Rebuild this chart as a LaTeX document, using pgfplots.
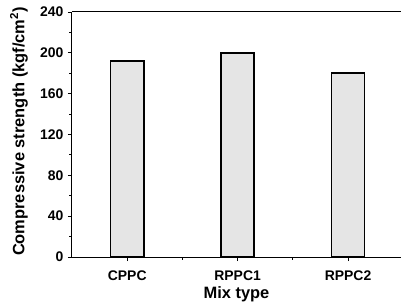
\documentclass[border=0pt]{standalone}
\usepackage{pgfplots}
\pgfplotsset{compat=1.18}
\usepackage{fontspec}
\setmainfont{Liberation Sans}
\begin{document}
\begin{tikzpicture}
\begin{axis}[
  scale only axis,
  width=329bp, height=245bp,
  xmin=0.5, xmax=3.48,
  ymin=0, ymax=240,
  axis x line=box, axis y line=left,
  axis line style={-, line width=1bp},
  xtick pos=left,
  xtick={1,2,3},
  xticklabels={CPPC,RPPC1,RPPC2},
  minor xtick={1.5,2.5},
  ytick={0,40,...,240},
  minor ytick={20,60,...,220},
  tick align=outside,
  major tick length=4bp,
  minor tick length=2.5bp,
  every tick/.style={black, line width=0.9bp},
  /pgf/number format/assume math mode=true,
  tick label style={font=\bfseries\fontsize{14}{14}\selectfont},
  xticklabel style={anchor=base, yshift=-19bp},
  yticklabel style={anchor=east, xshift=-1bp},
  xlabel={Mix type},
  ylabel={Compressive strength (kgf/cm\textsuperscript{2})},
  every axis x label/.style={at={(rel axis cs:0.5,0)}, anchor=base, yshift=-41.7bp, font=\bfseries\fontsize{16.5}{16.5}\selectfont},
  every axis y label/.style={at={(rel axis cs:0,0.5)}, anchor=center, rotate=90, xshift=3bp, yshift=53bp, font=\bfseries\fontsize{16.5}{16.5}\selectfont},
  ybar, bar width=0.3,
  clip=false,
]
\addplot[draw=black, line width=1.6bp, fill=black!10] coordinates {(1,192) (2,200) (3,180)};
\end{axis}
\pgfresetboundingbox
\path ([xshift=-72bp,yshift=-47bp]current axis.south west) rectangle ([xshift=1bp,yshift=12bp]current axis.north east);
\end{tikzpicture}
\end{document}
